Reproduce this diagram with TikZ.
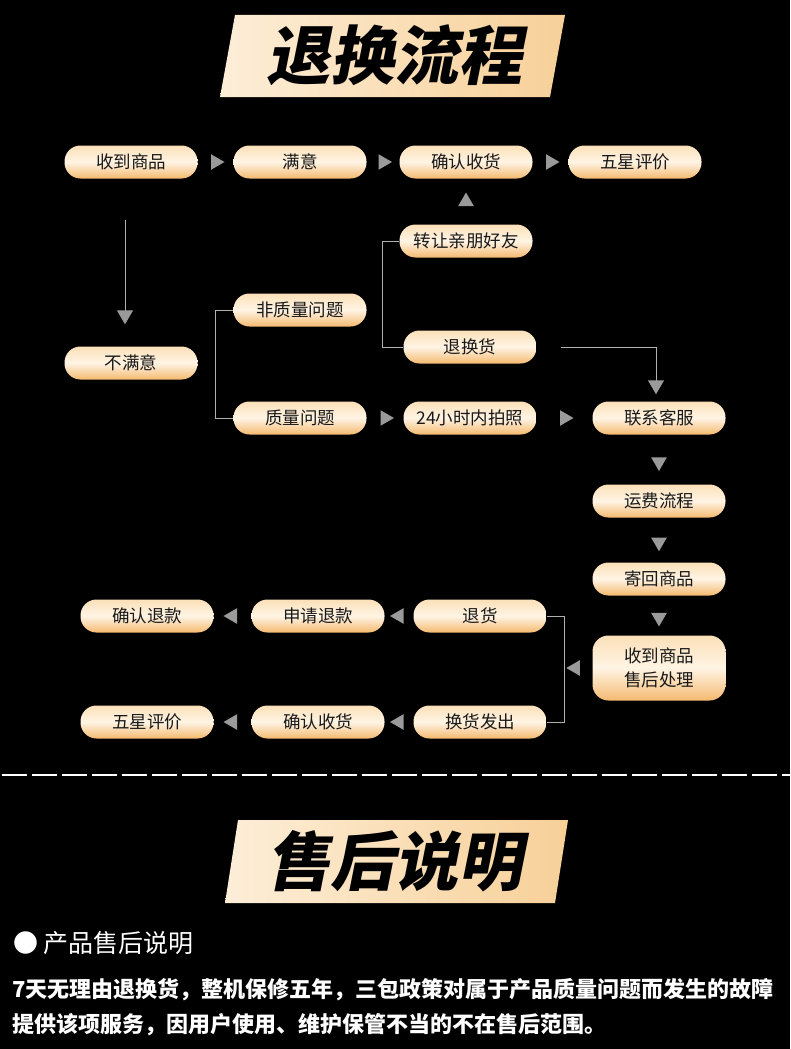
\documentclass[tikz,border=0pt]{standalone}
\usepackage{fontspec}
\setmainfont{Noto Sans CJK SC}
\newfontfamily\bannerfont[FakeSlant=0.2]{Noto Sans CJK SC}
\usepackage{tikz}
\usetikzlibrary{arrows.meta,calc,positioning,shapes.geometric}

\definecolor{pilltop}{HTML}{FBE0B8}
\definecolor{pillmid}{HTML}{FFF4E4}
\definecolor{pillbot}{HTML}{F4BA70}
\definecolor{linegray}{HTML}{B0B0B0}
\definecolor{trigray}{HTML}{9A9A9A}
\definecolor{bannerl}{HTML}{FDEED8}
\definecolor{bannerr}{HTML}{F7D098}

\tikzset{
  pill/.style={rectangle, rounded corners=16pt, minimum width=133pt, minimum height=33pt,
               inner sep=0pt, top color=pilltop, bottom color=pillbot, middle color=pillmid,
               text=black!90, font=\fontsize{17.5}{20}\selectfont},
  conn/.style={draw=linegray, line width=0.9pt},
  tip/.style={-{Triangle[length=14pt,width=16pt,color=trigray]}},
  tri/.style={regular polygon, regular polygon sides=3, fill=trigray,
              minimum size=18pt, inner sep=0pt},
  banner/.style={text=black, font=\bannerfont\bfseries\fontsize{64}{70}\selectfont}
}

\begin{document}
\begin{tikzpicture}[x=1pt, y=-1pt]
\fill[black] (0,0) rectangle (790,1049);
\useasboundingbox (0,0) rectangle (790,1049);

% title banner
\shade[left color=bannerl, right color=bannerr] (235,15) -- (565,15) -- (550,97) -- (220,97) -- cycle;
\node[banner] (title) at (394,55) {退换流程};

% main row
\node[pill] (recv)    at (131,162) {收到商品};
\node[pill] (satis)   at (300,162) {满意};
\node[pill] (confirm) at (466,162) {确认收货};
\node[pill] (five)    at (635,162) {五星评价};

\node[pill] (gift)  at (466,241) {转让亲朋好友};
\node[pill] (nonq)  at (300,310) {非质量问题};
\node[pill] (retex) at (470,347) {退换货};
\node[pill] (unsat) at (131,363) {不满意};
\node[pill] (qual)  at (300,418) {质量问题};
\node[pill] (photo) at (470,418) {24小时内拍照};

\node[pill] (contact)  at (659,418) {联系客服};
\node[pill] (freight)  at (659,501) {运费流程};
\node[pill] (sendback) at (659,579) {寄回商品};
\node[pill, minimum height=65pt, align=center, font=\fontsize{17.5}{24}\selectfont]
      (process) at (659,668) {收到商品\\售后处理};

\node[pill] (ret)    at (480,616) {退货};
\node[pill] (refund) at (318,616) {申请退款};
\node[pill] (refok)  at (147,616) {确认退款};
\node[pill] (exch)     at (480,722) {换货发出};
\node[pill] (confirm2) at (318,722) {确认收货};
\node[pill] (five2)    at (147,722) {五星评价};

% connectors
\coordinate (dnstart) at (125,220);
\coordinate (dnend) at ($(unsat.north)+(-6,-22)$);
\draw[conn, tip] (dnstart) -- (dnend);
\draw[conn] (nonq.west) -- ++(-18,0) |- (qual.west);
\draw[conn] (gift.west) -- ++(-17,0) |- (retex.west);
\coordinate (rxout) at (561,347);
\coordinate (rxend) at ($(contact.north)+(-3,-7)$);
\draw[conn, tip] (rxout) -| (rxend);
\draw[conn] (ret.east) -- ++(18,0) |- (exch.east);

\foreach \a/\b in {recv/satis, satis/confirm, confirm/five, qual/photo, photo/contact}
  \node[tri, shape border rotate=-90] at ($(\a.east)!.5!(\b.west)$) {};
\foreach \a/\b in {contact/freight, freight/sendback, sendback/process}
  \node[tri, shape border rotate=180] at ($(\a.south)!.55!(\b.north)$) {};
\foreach \a/\b in {ret/refund, refund/refok, exch/confirm2, confirm2/five2}
  \node[tri, shape border rotate=90] at ($(\a.west)!.5!(\b.east)$) {};
\node[tri] at ($(gift.north)!.5!(confirm.south)$) {};
\node[tri, shape border rotate=90] at ($(process.west)+(-17,0)$) {};

% separator
\draw[white, line width=1.3pt, dash pattern=on 25pt off 5pt] (2,775) -- (790,775);

% second banner
\shade[left color=bannerl, right color=bannerr] (238,820) -- (568,820) -- (555,903) -- (225,903) -- cycle;
\node[banner] (title2) at (394,861) {售后说明};

% notes
\node[anchor=west, text=white, inner sep=0pt, font=\fontsize{25}{30}\selectfont]
      (head) at (13,943) {● 产品售后说明};
\node[anchor=west, text=white, inner sep=0pt, font=\fontsize{22}{26}\selectfont\bfseries]
      (line1) at (12,990) {7天无理由退换货，整机保修五年，三包政策对属于产品质量问题而发生的故障};
\node[anchor=west, text=white, inner sep=0pt, font=\fontsize{22}{26}\selectfont\bfseries]
      (line2) at (12,1025) {提供该项服务，因用户使用、维护保管不当的不在售后范围。};
\end{tikzpicture}
\end{document}
